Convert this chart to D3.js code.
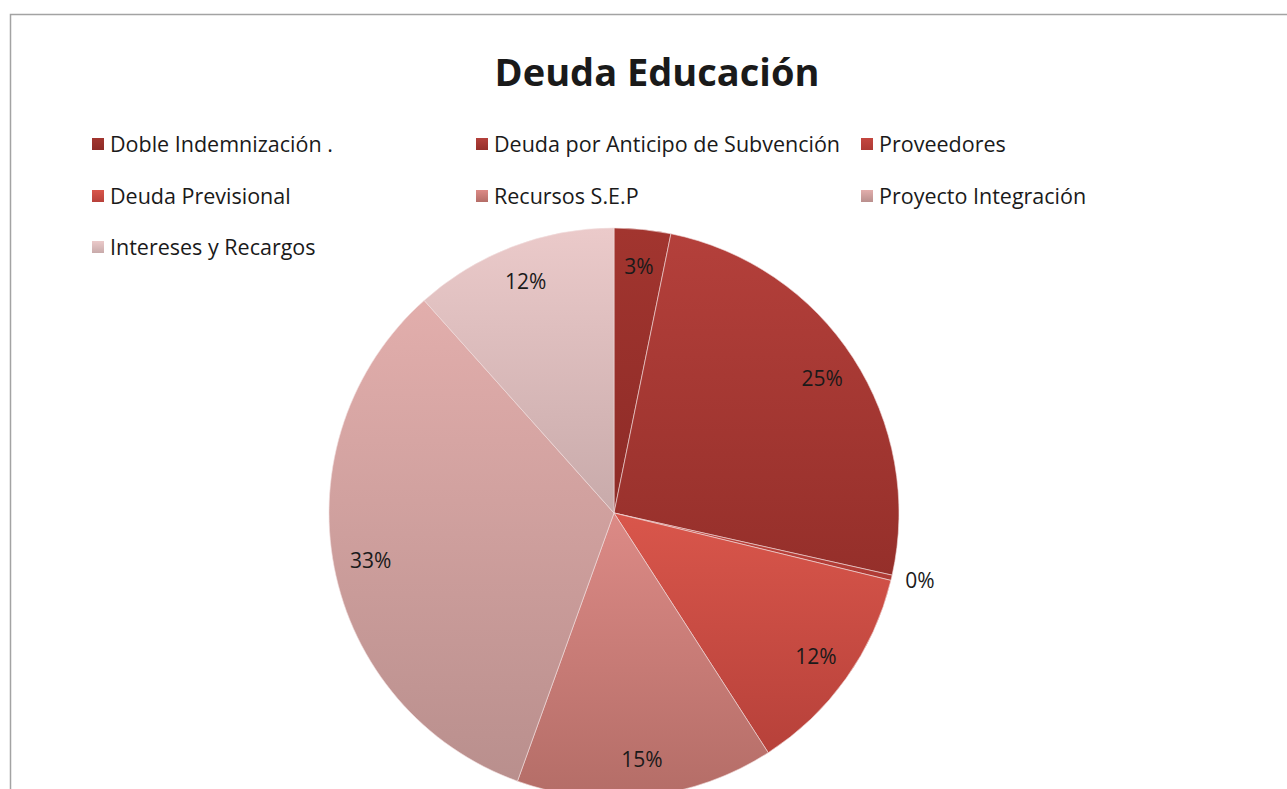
<!DOCTYPE html>
<html>
<head>
<meta charset="utf-8">
<script src="https://cdn.jsdelivr.net/npm/d3@7"></script>
<style>
  body { margin: 0; background: #fff; }
  svg { display: block; }
  text { font-family: 'Open Sans', 'Noto Sans', sans-serif; fill: #1a1a1a; }
</style>
</head>
<body>
<div id="vis"></div>
<script>
/* Pie chart of education debt */
// categories and shares (percent)
var categories = ['Doble Indemnización .', 'Deuda por Anticipo de Subvención', 'Proveedores',
    'Deuda Previsional', 'Recursos S.E.P', 'Proyecto Integración', 'Intereses y Recargos'];
var values = [3.2, 25.3, 0.3, 12.1, 14.6, 32.9, 11.6];
// top / bottom colours of the gradient in each slice
var topColors = ['#a2352f', '#b4403b', '#c4463f', '#d9564b', '#dc8a86', '#e2aeac', '#ebcaca'];
var bottomColors = ['#8d2b27', '#952f2a', '#ad3a34', '#b7413a', '#b46d67', '#b98f8d', '#c8aaaa'];

var width = 1287, height = 789;
var cx = 614, cy = 513, radius = 285;

var svg = d3.select('#vis').append('svg')
    .attr('width', width)
    .attr('height', height);

// chart frame (the right and bottom edges run off the picture)
svg.append('rect')
    .attr('x', 10.5).attr('y', 14.5)
    .attr('width', 1400).attr('height', 900)
    .attr('fill', 'none')
    .attr('stroke', '#a3a3a3')
    .attr('stroke-width', 1.5);

// gradients
var defs = svg.append('defs');
categories.forEach(function(c, i) {
    var grad = defs.append('linearGradient')
        .attr('id', 'g' + i)
        .attr('x1', 0).attr('y1', 0).attr('x2', 0).attr('y2', 1);
    grad.append('stop').attr('offset', '0%').attr('stop-color', topColors[i]);
    grad.append('stop').attr('offset', '100%').attr('stop-color', bottomColors[i]);
});

// title
svg.append('text')
    .attr('x', 657).attr('y', 86)
    .attr('text-anchor', 'middle')
    .style('font-size', '38px')
    .style('font-weight', 'bold')
    .text('Deuda Educación');

// legend: 3 columns
var legendX = [92, 476, 861];
var legendY = [144, 196, 247];
var legend = svg.selectAll('.legend').data(categories).enter().append('g')
    .attr('class', 'legend')
    .attr('transform', function(d, i) {
        return 'translate(' + legendX[i % 3] + ',' + legendY[Math.floor(i / 3)] + ')';
    });
legend.append('rect')
    .attr('x', 0).attr('y', -6)
    .attr('width', 12).attr('height', 12)
    .attr('fill', function(d, i) { return 'url(#g' + i + ')'; });
legend.append('text')
    .attr('x', 18).attr('y', 0)
    .attr('dy', '0.35em')
    .style('font-size', '21.5px')
    .text(function(d) { return d; });

// pie
var pie = d3.pie().sort(null).value(function(d) { return d; });
var arc = d3.arc().innerRadius(0).outerRadius(radius);
var labelArc = d3.arc().innerRadius(radius * 0.87).outerRadius(radius * 0.87);
var outArc = d3.arc().innerRadius(radius + 14).outerRadius(radius + 14);

var g = svg.append('g')
    .attr('transform', 'translate(' + cx + ',' + cy + ')');

var arcs = pie(values);

g.selectAll('path').data(arcs).enter().append('path')
    .attr('d', arc)
    .attr('fill', function(d, i) { return 'url(#g' + i + ')'; })
    .attr('stroke', '#f2dede')
    .attr('stroke-width', 0.6);

g.selectAll('.lbl').data(arcs).enter().append('text')
    .attr('class', 'lbl')
    .attr('transform', function(d) {
        var p = d.value < 1 ? outArc.centroid(d) : labelArc.centroid(d);
        return 'translate(' + p + ')';
    })
    .attr('text-anchor', function(d) { return d.value < 1 ? 'start' : 'middle'; })
    .attr('dy', '0.35em')
    .style('font-size', '21px')
    .text(function(d) { return Math.round(d.value) + '%'; });
</script>
</body>
</html>
